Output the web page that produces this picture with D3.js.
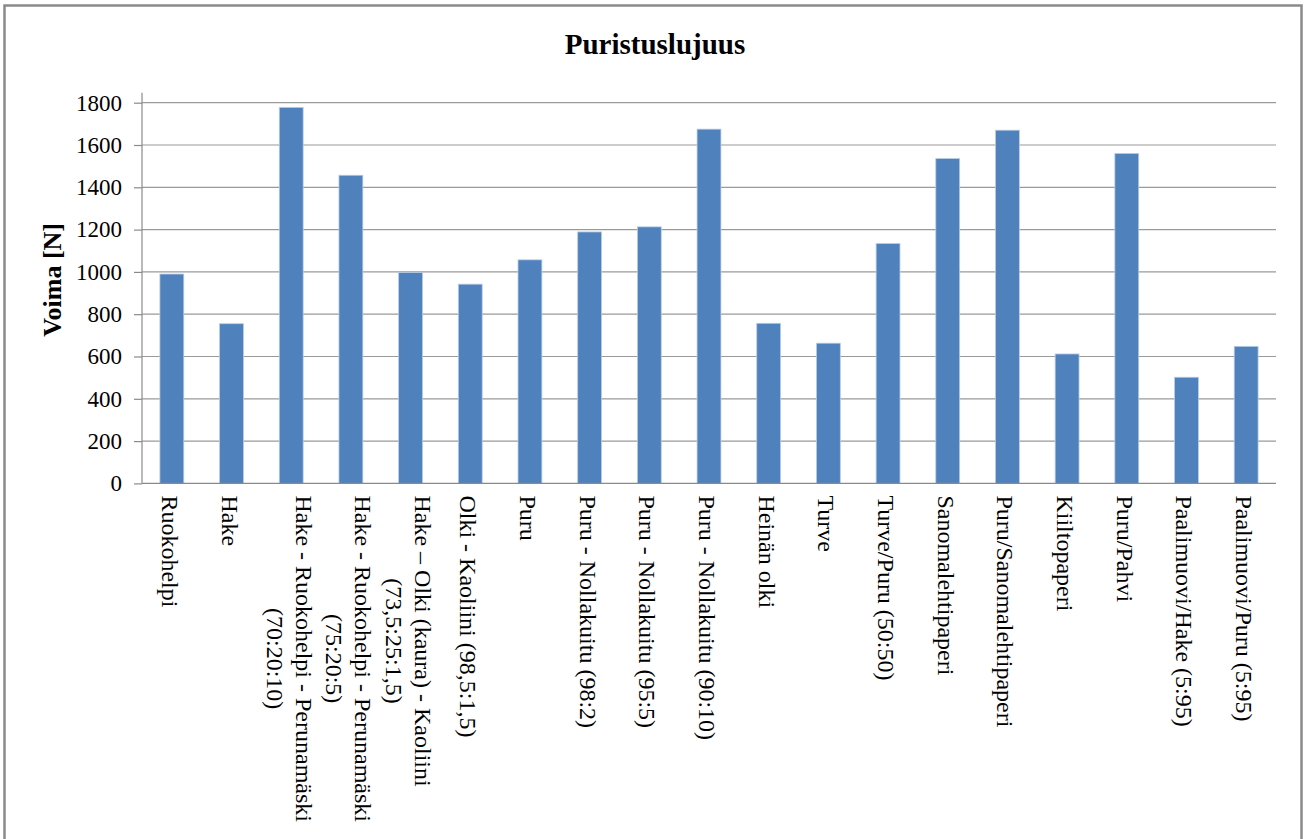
<!DOCTYPE html>
<html>
<head>
<meta charset="utf-8">
<script src="https://cdn.jsdelivr.net/npm/d3@7"></script>
<style>
  html, body { margin: 0; padding: 0; background: #fff; }
  svg { display: block; }
  text { font-family: "Liberation Serif", "Times New Roman", serif; fill: #000; }
</style>
</head>
<body>
<svg id="chart" width="1305" height="839"></svg>
<script>
// ---- data ----
const categories = [
  "Ruokohelpi",
  "Hake",
  "Hake - Ruokohelpi - Perunamäski\n(70:20:10)",
  "Hake - Ruokohelpi - Perunamäski\n(75:20:5)",
  "Hake – Olki (kaura) - Kaoliini\n(73,5:25:1,5)",
  "Olki - Kaoliini (98,5:1,5)",
  "Puru",
  "Puru - Nollakuitu (98:2)",
  "Puru - Nollakuitu (95:5)",
  "Puru - Nollakuitu (90:10)",
  "Heinän olki",
  "Turve",
  "Turve/Puru (50:50)",
  "Sanomalehtipaperi",
  "Puru/Sanomalehtipaperi",
  "Kiiltopaperi",
  "Puru/Pahvi",
  "Paalimuovi/Hake (5:95)",
  "Paalimuovi/Puru (5:95)"
];
const values = [990, 755, 1778, 1457, 997, 942, 1057, 1189, 1213, 1675, 757, 663, 1134, 1536, 1670, 612, 1560, 502, 648];
const yTicks = [0, 200, 400, 600, 800, 1000, 1200, 1400, 1600, 1800];
const title = "Puristuslujuus";
const yTitle = "Voima [N]";

// ---- layout ----
const svg = d3.select("#chart");
const plot = { left: 142, right: 1276, top: 102.7, bottom: 483.4 };

// outer frame
svg.append("rect")
  .attr("x", 4.5).attr("y", 5.5)
  .attr("width", 1297).attr("height", 845)
  .attr("fill", "#fff")
  .attr("stroke", "#8a8a8a")
  .attr("stroke-width", 2.5);

const x = d3.scaleBand()
  .domain(d3.range(categories.length))
  .range([plot.left, plot.right])
  .paddingInner(0.6)
  .paddingOuter(0.3);

const y = d3.scaleLinear()
  .domain([0, 1800])
  .range([plot.bottom, plot.top]);

// gridlines
svg.append("g")
  .selectAll("line")
  .data(yTicks.filter(d => d > 0))
  .join("line")
  .attr("x1", plot.left).attr("x2", plot.right)
  .attr("y1", d => y(d)).attr("y2", d => y(d))
  .attr("stroke", "#9a9a9a")
  .attr("stroke-width", 1.2);

// bars
svg.append("g")
  .selectAll("rect")
  .data(values)
  .join("rect")
  .attr("x", (d, i) => x(i))
  .attr("width", x.bandwidth())
  .attr("y", d => y(d))
  .attr("height", d => y(0) - y(d))
  .attr("fill", "#4F81BD")
  .attr("stroke", "#b9cde5")
  .attr("stroke-width", 0.8);

// y axis
const yAxis = d3.axisLeft(y)
  .tickValues(yTicks)
  .tickSize(8)
  .tickPadding(12)
  .tickFormat(d3.format("d"));
const gy = svg.append("g")
  .attr("transform", `translate(${plot.left},0)`)
  .attr("font-family", null)
  .call(yAxis);
gy.attr("font-family", '"Liberation Serif", "Times New Roman", serif');
gy.select(".domain").remove();
gy.selectAll(".tick line").attr("stroke", "#8a8a8a").attr("stroke-width", 1.2);
gy.selectAll(".tick text")
  .attr("font-size", 23)
  .attr("fill", "#000");
gy.append("line")
  .attr("x1", 0).attr("x2", 0)
  .attr("y1", y(0)).attr("y2", y(1800) - 10)
  .attr("stroke", "#8a8a8a").attr("stroke-width", 1.2);

// x axis line
svg.append("line")
  .attr("x1", plot.left).attr("x2", plot.right)
  .attr("y1", y(0)).attr("y2", y(0))
  .attr("stroke", "#8a8a8a").attr("stroke-width", 1.2);

// x labels (rotated 90°, multi-line centered)
const labelTop = y(0) + 12;
const lineH = 29;
const labels = svg.append("g");
categories.forEach((c, i) => {
  const lines = c.split("\n");
  const cx = x(i) + x.bandwidth() / 2 - 2;
  const g = labels.append("g");
  const texts = lines.map((ln, k) => g.append("text")
    .attr("font-size", 24)
    .attr("dominant-baseline", "central")
    .attr("text-anchor", "middle")
    .text(ln));
  const maxW = d3.max(texts, t => t.node().getComputedTextLength());
  texts.forEach((t, k) => {
    const lx = cx + ((lines.length - 1) / 2 - k) * lineH;
    t.attr("transform", `translate(${lx},${labelTop + maxW / 2}) rotate(90)`);
  });
});

// title
svg.append("text")
  .attr("x", 655)
  .attr("y", 54)
  .attr("text-anchor", "middle")
  .attr("font-size", 29)
  .attr("font-weight", "bold")
  .text(title);

// y axis title
svg.append("text")
  .attr("transform", `translate(61,${y(1000) + 8}) rotate(-90)`)
  .attr("text-anchor", "middle")
  .attr("font-size", 26)
  .attr("font-weight", "bold")
  .text(yTitle);
</script>
</body>
</html>
